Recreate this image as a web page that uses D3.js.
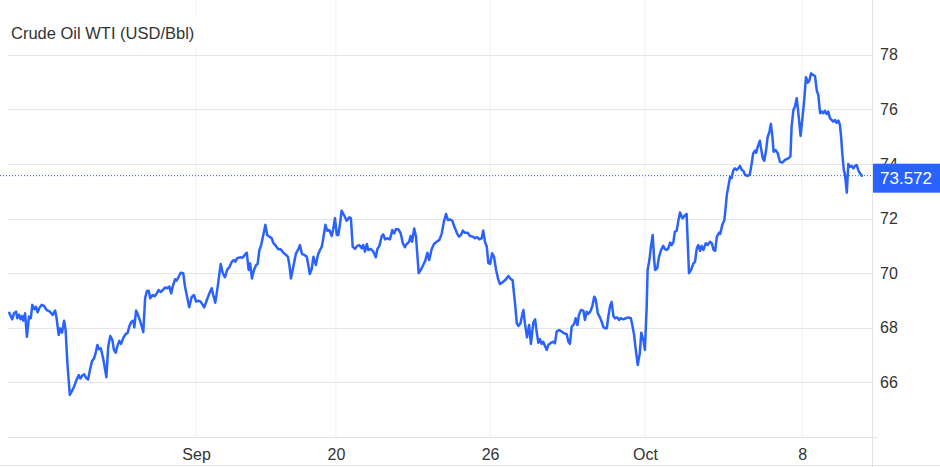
<!DOCTYPE html>
<html>
<head>
<meta charset="utf-8">
<script src="https://cdnjs.cloudflare.com/ajax/libs/d3/7.8.5/d3.min.js"></script>
<style>
    body { margin: 0; background: #fff; }
    svg { display: block; font-family: Arial, "Liberation Sans", sans-serif; }
</style>
</head>
<body>
<div id="vis"></div>
<script>
/* WTI crude intraday line, price badge on the right axis */

// Chart values
var title = "Crude Oil WTI (USD/Bbl)";
var xTickSteps = [62.7, 109.3, 160.7, 212.3, 264.7];
var xTickLabels = ["Sep", "20", "26", "Oct", "8"];
var yTicks = [66, 68, 70, 72, 74, 76, 78];
var lastPrice = 73.572;

// [session step, price]
var series = [
    [0.4,68.55],[1.4,68.31],[2.0,68.53],[2.7,68.59],[3.1,68.35],[3.7,68.48],[4.2,68.31],[4.7,68.43],[5.1,68.26],[5.7,68.53],
    [6.3,67.67],[7.0,68.41],[7.6,68.35],[8.1,68.84],[8.8,68.68],[9.3,68.77],[9.9,68.57],[10.4,68.71],[11.2,68.84],[12.0,68.80],
    [12.9,68.65],[14.0,68.59],[14.9,68.47],[15.7,68.63],[16.2,68.35],[16.9,67.74],[17.4,67.98],[18.0,67.82],[18.7,68.26],[19.2,67.92],
    [19.8,66.70],[20.6,65.54],[21.2,65.66],[22.0,65.84],[22.9,66.11],[23.6,66.27],[24.1,66.14],[24.8,66.25],[25.4,66.30],[26.0,66.17],
    [26.7,66.11],[27.3,66.45],[28.0,66.78],[28.7,66.88],[29.3,67.12],[29.8,67.37],[30.3,67.22],[30.9,67.25],[31.6,66.94],[32.2,66.58],
    [32.8,66.19],[33.4,67.31],[34.1,67.70],[34.8,67.55],[35.3,67.19],[35.9,67.09],[36.4,67.31],[37.1,67.52],[37.7,67.41],[38.4,67.62],
    [39.2,67.77],[39.9,67.82],[40.4,68.04],[41.1,68.22],[41.8,68.26],[42.1,68.02],[42.7,68.63],[43.2,68.51],[44.0,68.26],[44.6,68.04],
    [45.1,67.84],[45.7,69.08],[46.3,69.35],[46.9,69.36],[47.4,69.08],[48.2,69.20],[48.9,69.16],[49.6,69.26],[50.2,69.38],[50.9,69.31],
    [51.8,69.41],[52.4,69.48],[53.1,69.45],[53.8,69.51],[54.4,69.26],[54.9,69.51],[55.7,69.78],[56.2,69.73],[56.8,69.85],[57.6,70.02],
    [58.4,70.00],[59.0,69.51],[59.8,69.08],[60.4,68.75],[61.2,69.12],[62.0,69.20],[62.7,68.96],[63.4,68.99],[64.2,68.96],[64.9,68.84],
    [65.4,68.75],[66.2,68.99],[67.1,69.26],[67.9,69.45],[68.4,69.20],[69.1,68.92],[69.9,69.51],[70.9,70.34],[71.6,70.00],[72.3,69.85],
    [73.1,70.14],[73.8,70.22],[74.6,70.42],[75.3,70.48],[75.8,70.42],[76.4,70.55],[77.3,70.58],[78.2,70.57],[78.9,70.67],[79.6,70.75],
    [80.2,70.12],[80.7,70.36],[81.3,69.81],[82.0,70.12],[82.7,70.30],[83.2,70.34],[83.8,70.85],[84.4,71.03],[85.1,71.40],[85.8,71.77],
    [86.4,71.40],[87.1,71.34],[87.9,71.28],[88.4,71.12],[89.3,71.00],[90.1,70.88],[90.9,70.88],[91.8,70.75],[92.7,70.67],[93.3,70.60],
    [93.8,70.30],[94.3,69.81],[95.1,70.24],[96.0,70.73],[96.8,70.88],[97.3,71.03],[98.0,70.70],[98.8,70.67],[99.6,70.60],[100.1,70.30],
    [100.6,69.97],[101.2,70.14],[101.8,70.60],[102.6,70.30],[103.3,70.67],[104.0,70.85],[104.6,70.97],[105.1,71.28],[105.8,71.77],[106.4,71.56],
    [107.1,71.58],[107.9,71.36],[108.4,71.61],[109.0,72.01],[109.6,71.40],[110.1,71.40],[110.7,71.83],[111.2,72.29],[112.0,72.13],[112.9,71.92],
    [113.8,72.05],[114.3,72.01],[114.9,70.97],[115.7,70.89],[116.4,71.00],[117.1,71.03],[117.9,70.91],[118.4,71.03],[119.0,70.79],[119.6,71.07],
    [120.1,70.85],[120.9,70.89],[121.8,70.79],[122.6,70.58],[123.1,70.88],[123.8,71.00],[124.6,71.36],[125.1,71.42],[125.7,71.24],[126.4,71.28],
    [127.3,71.24],[128.1,71.58],[128.7,71.46],[129.3,71.61],[130.1,71.61],[130.9,71.46],[131.6,71.10],[132.3,70.95],[132.9,71.07],[133.7,71.15],
    [134.2,71.36],[134.7,71.15],[135.4,71.64],[136.0,71.34],[136.9,70.00],[137.7,70.14],[138.4,70.30],[139.1,70.46],[139.8,70.75],[140.4,70.48],
    [141.2,70.88],[142.0,71.07],[142.9,71.15],[143.8,71.22],[144.6,71.46],[145.3,71.89],[146.0,72.17],[146.6,71.95],[147.3,71.97],[148.1,71.92],
    [148.8,71.70],[149.6,71.48],[150.3,71.34],[151.0,71.40],[151.6,71.56],[152.3,71.48],[153.2,71.48],[154.0,71.36],[154.9,71.34],[155.7,71.28],
    [156.4,71.32],[157.1,71.24],[157.9,71.28],[158.4,71.56],[159.0,71.15],[159.6,70.97],[160.1,70.38],[160.7,70.34],[161.4,70.73],[162.0,70.60],
    [162.7,70.12],[163.4,69.78],[164.0,69.60],[165.1,69.69],[166.0,69.78],[166.8,69.90],[167.6,69.78],[168.2,69.75],[169.0,68.90],[169.6,68.16],
    [170.1,68.07],[170.8,68.16],[171.4,68.47],[171.8,68.65],[172.3,68.16],[173.0,67.65],[173.7,68.10],[174.3,67.41],[175.1,68.19],[175.7,68.31],
    [176.2,67.86],[176.8,67.45],[177.3,67.58],[177.9,67.41],[178.4,67.49],[179.0,67.33],[179.6,67.19],[180.1,67.37],[181.0,67.45],[181.8,67.49],
    [182.3,67.43],[182.9,67.86],[183.7,67.92],[184.6,67.86],[185.3,67.80],[186.2,67.77],[186.8,67.49],[187.3,67.41],[187.9,68.04],[188.7,68.14],
    [189.2,68.35],[189.8,68.10],[190.3,68.47],[191.0,68.65],[191.8,68.63],[192.3,68.29],[192.9,68.59],[193.4,68.51],[194.1,68.59],[194.8,68.80],
    [195.4,69.14],[195.9,69.04],[196.6,68.53],[197.2,68.41],[197.9,68.22],[198.4,68.04],[199.0,67.98],[199.6,67.98],[200.1,68.41],[200.7,68.80],
    [201.2,68.95],[201.8,68.43],[202.3,68.35],[203.1,68.38],[203.7,68.29],[204.3,68.35],[205.1,68.31],[205.9,68.35],[206.8,68.38],[207.6,68.35],
    [208.1,68.10],[208.7,67.74],[209.2,67.25],[209.9,66.64],[210.6,67.07],[211.1,67.82],[211.8,67.55],[212.3,67.19],[212.9,68.77],[213.2,70.12],
    [213.8,70.48],[214.3,70.97],[214.9,71.40],[215.4,70.48],[215.7,70.12],[216.4,70.18],[217.0,70.60],[217.7,70.85],[218.4,71.00],[219.0,70.88],
    [219.6,70.85],[220.1,70.91],[220.7,71.12],[221.2,71.03],[221.8,71.15],[222.3,71.52],[222.9,71.56],[223.4,71.89],[224.0,72.22],[224.8,72.01],
    [225.5,72.10],[226.2,72.17],[227.0,70.00],[227.7,70.12],[228.4,70.34],[229.0,70.42],[229.6,70.91],[230.1,71.03],[230.7,70.82],[231.2,71.00],
    [231.8,70.85],[232.6,71.10],[233.2,71.03],[234.0,71.15],[234.6,71.10],[235.2,70.85],[235.7,70.82],[236.3,71.34],[237.0,71.48],[237.4,71.44],
    [238.1,71.77],[238.8,71.95],[239.2,72.38],[239.6,72.86],[240.1,73.17],[240.7,73.53],[241.2,73.48],[241.8,73.78],[242.3,73.84],[242.9,73.78],
    [243.4,73.84],[244.0,73.93],[244.6,73.78],[245.1,73.75],[245.7,73.60],[246.6,73.56],[247.3,73.63],[247.9,74.03],[248.4,74.39],[249.0,74.49],
    [249.4,74.41],[249.9,74.63],[250.6,74.85],[251.0,74.58],[251.6,74.21],[252.1,74.12],[252.7,74.51],[253.2,74.98],[253.8,75.18],[254.3,75.47],
    [254.8,75.00],[255.2,74.45],[255.9,74.51],[256.6,74.39],[257.3,74.08],[258.1,74.05],[259.0,74.15],[260.1,74.21],[260.8,74.27],[261.2,75.37],
    [261.8,75.98],[262.3,76.10],[262.9,76.41],[263.4,75.92],[264.2,75.03],[264.8,75.67],[265.4,76.34],[266.0,77.18],[266.6,76.98],[267.1,77.05],
    [267.7,77.32],[268.4,77.26],[269.0,77.22],[269.6,76.69],[270.1,76.53],[270.7,75.86],[271.2,75.92],[271.8,75.86],[272.3,75.95],[272.9,75.83],
    [273.4,75.92],[274.0,75.67],[274.6,75.61],[275.1,75.55],[275.7,75.61],[276.2,75.51],[276.8,75.59],[277.3,75.43],[277.7,75.00],[278.1,74.39],
    [278.6,73.78],[279.0,73.60],[279.6,72.95],[280.1,74.00],[280.7,73.90],[281.2,73.93],[281.8,73.84],[282.3,73.93],[282.9,73.96],[283.4,73.78],
    [284.0,73.66],[284.6,73.572]
];

// SVG size and plot edges
var width = 940;
var height = 467;
var plotLeft = 8, plotRight = 872, plotTop = 0.2, plotBottom = 437;
var blue = "#2962ff";

var svg = d3.select("#vis").append("svg").attr("width", width).attr("height", height);

/************ scales ************/
var x = d3.scaleLinear().domain([0, 288]).range([plotLeft, plotRight]);
var y = d3.scaleLinear().domain([64, 80]).range([plotBottom, plotTop]);

/************ grid ************/
svg.append("g").selectAll("line").data(xTickSteps).enter().append("line")
    .attr("x1", function(d) { return x(d); }).attr("x2", function(d) { return x(d); })
    .attr("y1", 0).attr("y2", plotBottom)
    .attr("stroke", "#edf0f4").attr("stroke-width", 1);

svg.append("g").selectAll("line").data(yTicks).enter().append("line")
    .attr("x1", plotLeft).attr("x2", plotRight)
    .attr("y1", function(d) { return Math.round(y(d)) + 0.5; })
    .attr("y2", function(d) { return Math.round(y(d)) + 0.5; })
    .attr("stroke", "#e6e6e6").attr("stroke-width", 1);

// bottom axis line, right border, bottom border
svg.append("line").attr("x1", plotLeft).attr("x2", 877).attr("y1", plotBottom + 0.5).attr("y2", plotBottom + 0.5)
    .attr("stroke", "#e3e3e3");
svg.append("line").attr("x1", plotRight + 0.5).attr("x2", plotRight + 0.5).attr("y1", 0).attr("y2", height)
    .attr("stroke", "#e3e3e3");
svg.append("line").attr("x1", 0).attr("x2", width).attr("y1", height - 1.5).attr("y2", height - 1.5)
    .attr("stroke", "#e3e3e3");

/************ title ************/
svg.append("rect").attr("x", 0).attr("y", 16).attr("width", 200).attr("height", 32).attr("fill", "#fff");
svg.append("text").attr("x", 11).attr("y", 39).attr("font-size", 16.5).attr("fill", "#333").text(title);

/************ axes ************/
var yAxis = d3.axisRight(y).tickValues(yTicks).tickSize(0).tickPadding(0).tickFormat(d3.format("d"));
var gy = svg.append("g").attr("transform", "translate(880,0)").call(yAxis);
gy.select(".domain").remove();
gy.selectAll("text").attr("font-size", 16).attr("fill", "#333").attr("font-family", "Arial, 'Liberation Sans', sans-serif");

var xAxis = d3.axisBottom(x).tickValues(xTickSteps).tickSize(0).tickPadding(12)
    .tickFormat(function(d, i) { return xTickLabels[i]; });
var gx = svg.append("g").attr("transform", "translate(0," + plotBottom + ")").call(xAxis);
gx.select(".domain").remove();
gx.selectAll("text").attr("font-size", 16).attr("fill", "#333").attr("font-family", "Arial, 'Liberation Sans', sans-serif");

/************ last price guide ************/
svg.append("line").attr("x1", 0).attr("x2", plotRight)
    .attr("y1", y(lastPrice)).attr("y2", y(lastPrice))
    .attr("stroke", blue).attr("stroke-width", 1).attr("stroke-dasharray", "1,2");

/************ price line ************/
var line = d3.line()
    .x(function(d) { return x(d[0]); })
    .y(function(d) { return y(d[1]); });

svg.append("path").datum(series)
    .attr("d", line)
    .attr("fill", "none")
    .attr("stroke", blue)
    .attr("stroke-width", 2.5)
    .attr("stroke-linejoin", "round")
    .attr("stroke-linecap", "round");

/************ price badge (covers the lower part of the 74 label, as in the source) ************/
svg.append("rect").attr("x", plotRight + 1).attr("y", y(lastPrice) - 12).attr("width", width - plotRight - 1).attr("height", 29)
    .attr("fill", blue);
svg.append("text").attr("x", 880).attr("y", y(lastPrice) + 2.5).attr("dy", "0.35em")
    .attr("font-size", 17).attr("fill", "#fff").text(d3.format(".3f")(lastPrice));
</script>
</body>
</html>
